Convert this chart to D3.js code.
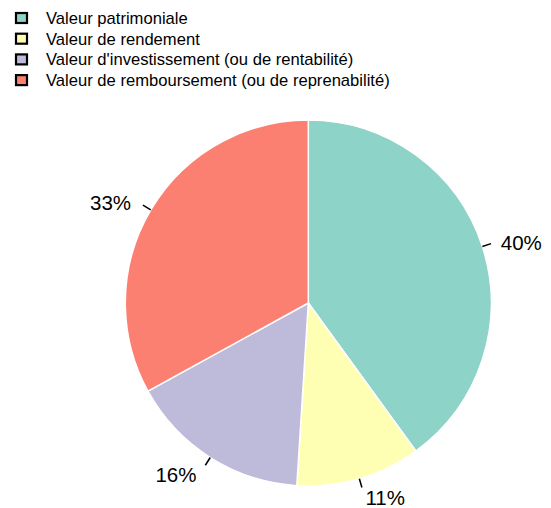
<!DOCTYPE html>
<html><head><meta charset="utf-8">
<script src="https://cdn.jsdelivr.net/npm/d3@7"></script>
<style>body{margin:0;background:#fff;} svg{display:block;}</style>
</head><body>
<svg id="chart" width="551" height="508"></svg>
<script>
const categories = ["Valeur patrimoniale","Valeur de rendement","Valeur d'investissement (ou de rentabilité)","Valeur de remboursement (ou de reprenabilité)"];
const values = [40, 11, 16, 33];
const labels = ["40%","11%","16%","33%"];
const colors = ["#8DD3C7","#FFFFB3","#BEBADA","#FB8072"];

const svg = d3.select("#chart");
const font = "'Liberation Sans', Arial, sans-serif";
const cx = 308.3, cy = 303, r = 183;

const pie = d3.pie().sort(null).value(d => d)(values);
const arc = d3.arc().innerRadius(0).outerRadius(r);
const g = svg.append("g").attr("transform", `translate(${cx},${cy})`);
g.selectAll("path.slice").data(pie).join("path")
  .attr("class","slice")
  .attr("d", arc)
  .attr("fill", (d,i) => colors[i])
  .attr("stroke", "#fff").attr("stroke-width", 1.5);

pie.forEach((d,i) => {
  const a = (d.startAngle + d.endAngle)/2;
  const sx = Math.sin(a), sy = -Math.cos(a);
  g.append("line")
    .attr("x1", sx*r).attr("y1", sy*r)
    .attr("x2", sx*r*1.05).attr("y2", sy*r*1.05)
    .attr("stroke", "#000").attr("stroke-width", 1.5);
  g.append("text")
    .attr("x", sx*r*1.1 + (sx >= 0 ? 1 : -4))
    .attr("y", sy*r*1.1 + 2)
    .attr("dy", "0.35em")
    .attr("text-anchor", sx >= 0 ? "start" : "end")
    .attr("font-family", font).attr("font-size", 20.5)
    .attr("fill", "#000")
    .text(labels[i]);
});

const leg = svg.append("g");
categories.forEach((c,i) => {
  const y = 18 + i*20.7;
  leg.append("rect").attr("x", 16).attr("y", y-5).attr("width", 11).attr("height", 10)
    .attr("fill", colors[i]).attr("stroke", "#000").attr("stroke-width", 2.2);
  leg.append("text").attr("x", 46).attr("y", y).attr("dy", "0.35em")
    .attr("font-family", font).attr("font-size", 16.6).attr("fill", "#000")
    .text(c);
});
</script>
</body></html>
